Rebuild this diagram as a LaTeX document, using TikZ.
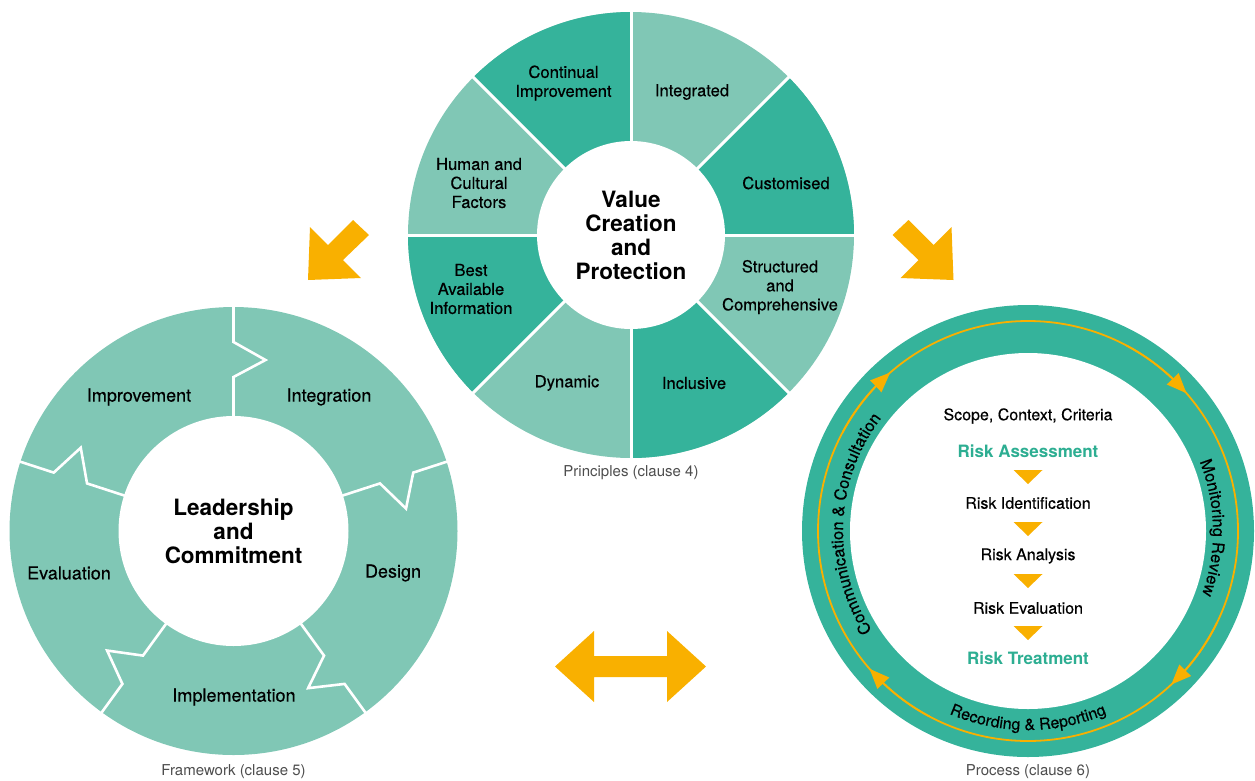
\documentclass[tikz,border=0pt]{standalone}
\usepackage{fontspec}
\setmainfont{TeX Gyre Heros}
\newfontfamily\medfont{TeX Gyre Heros}[FakeBold=0.35]
\usetikzlibrary{arrows.meta,bending,decorations.text}
\definecolor{darkteal}{HTML}{35B39B}
\definecolor{lightteal}{HTML}{80C7B5}
\definecolor{amber}{HTML}{F9B000}
\definecolor{greentext}{HTML}{2DAE92}
\definecolor{captiongray}{HTML}{4D4D4D}
\begin{document}
\begin{tikzpicture}[x=1pt,y=1pt,
  lbl/.style={align=center, font=\medfont\fontsize{16.6}{19}\selectfont, text=black, inner sep=0pt},
  fwlbl/.style={align=center, font=\medfont\fontsize{18}{20}\selectfont, text=black, inner sep=0pt},
  hub/.style={align=center, font=\fontsize{22.5}{24}\selectfont\bfseries, text=black, inner sep=0pt},
  caption/.style={font=\fontsize{15}{17}\selectfont, text=captiongray, inner sep=0pt},
  steplbl/.style={font=\medfont\fontsize{16}{19}\selectfont, text=black, inner sep=0pt},
  phase/.style={font=\fontsize{17}{19}\selectfont\bfseries, text=greentext, inner sep=0pt},
  sepline/.style={white, line width=3pt},
  zig/.style={white, line width=2.6pt, line join=miter},
  bigarrow/.style={fill=amber, draw=none},
  ring/.style={amber, line width=1.8pt},
  ringtip/.style={amber, line width=1.8pt, -{Triangle[length=20pt,width=16pt,flex]}},
  curvetext/.style={decorate, decoration={text along path, text align=center, text color=black}}
]
\path[use as bounding box] (0,0) rectangle (1255,-780);

% ---------- Principles ----------
\begin{scope}[shift={(631,-235)}]
  \fill[lightteal] (0,0) circle (223);
  \foreach \a in {0,90,180,270}{
    \fill[darkteal] (0,0) -- (\a:223) arc[start angle=\a, delta angle=45, radius=223] -- cycle;
  }
  \foreach \a in {0,45,...,315}{
    \draw[sepline] (\a:80) -- (\a:226);
  }
  \fill[white] (0,0) circle (94);
  \node[hub] (vcp) at (0,0) {Value\\Creation\\and\\Protection};
\end{scope}
\node[lbl] (ci)  at (563.5,-83) {Continual\\Improvement};
\node[lbl] (int) at (692,-92) {Integrated};
\node[lbl] (cus) at (786,-183) {Customised};
\node[lbl] (str) at (780,-287) {Structured\\and\\Comprehensive};
\node[lbl] (inc) at (694,-383) {Inclusive};
\node[lbl] (dyn) at (567,-383) {Dynamic};
\node[lbl] (bai) at (471,-289) {Best\\Available\\Information};
\node[lbl] (hcf) at (479,-183) {Human and\\Cultural\\Factors};
\node[caption] (cap4) at (631,-473) {Principles (clause 4)};

% ---------- Framework ----------
\begin{scope}[shift={(233.5,-531)}]
  \fill[lightteal] (0,0) circle (224);
  \foreach \a in {90,18,-54,-126,-198}{
    \draw[zig, rotate=\a-90] (0,228) -- (0,189) -- (32,171) -- (0,154) -- (0,110);
  }
  \fill[white] (0,0) circle (115);
  \node[hub] (lac) at (0,0) {Leadership\\and\\Commitment};
\end{scope}
\node[fwlbl] (imp)  at (139,-397) {Improvement};
\node[fwlbl] (ign)  at (329,-397) {Integration};
\node[fwlbl] (des)  at (393,-573) {Design};
\node[fwlbl] (evl)  at (69,-573) {Evaluation};
\node[fwlbl] (impl) at (234,-697) {Implementation};
\node[caption] (cap5) at (233.5,-772) {Framework (clause 5)};

% ---------- Process ----------
\begin{scope}[shift={(1028,-531)}]
  \fill[darkteal] (0,0) circle (226);
  \fill[white] (0,0) circle (178);
  \draw[ring] (0,0) circle (210);
  \draw[ringtip] (152:210) arc[start angle=152, end angle=131, radius=210];
  \draw[ringtip] (62:210) arc[start angle=62, end angle=41, radius=210];
  \draw[ringtip] (-26:210) arc[start angle=-26, end angle=-47, radius=210];
  \draw[ringtip] (-118:210) arc[start angle=-118, end angle=-139, radius=210];
  \path[curvetext, decoration={text={|\medfont\fontsize{16.5}{18}\selectfont|Communication {\&} Consultation}}]
    (217.5:185) arc[start angle=217.5, end angle=137.5, radius=185];
  \path[curvetext, decoration={text={|\medfont\fontsize{16.5}{18}\selectfont|Monitoring Review}}]
    (41:185) arc[start angle=41, end angle=-39, radius=185];
  \path[curvetext, decoration={text={|\medfont\fontsize{16}{18}\selectfont|Recording {\&} Reporting}}]
    (225:199) arc[start angle=225, end angle=315, radius=199];
\end{scope}
\node[steplbl] (scc) at (1028,-416) {Scope, Context, Criteria};
\node[phase]   (ra)  at (1028,-451) {Risk Assessment};
\node[steplbl] (rid) at (1028,-503) {Risk Identification};
\node[steplbl] (ran) at (1028,-556) {Risk Analysis};
\node[steplbl] (rev) at (1028,-608) {Risk Evaluation};
\node[phase]   (rt)  at (1028,-658) {Risk Treatment};
\foreach \y in {470,522,574,626}{
  \fill[amber] (1013.5,-\y) -- (1042.5,-\y) -- (1028,-\y-14) -- cycle;
}
\node[caption] (cap6) at (1028,-772) {Process (clause 6)};

% ---------- Big arrows ----------
\fill[bigarrow] (308,-280) -- (310,-227) -- (328,-245) -- (353,-220) -- (369,-235) -- (343,-260) -- (361,-278) -- cycle;
\fill[bigarrow] (953.5,-280) -- (951.5,-227) -- (933.5,-245) -- (908.5,-220) -- (892.5,-235) -- (918.5,-260) -- (900.5,-278) -- cycle;
\fill[bigarrow] (555,-666.5) -- (594,-631) -- (594,-656) -- (667,-656) -- (667,-631) -- (706,-666.5) -- (667,-702) -- (667,-677) -- (594,-677) -- (594,-702) -- cycle;
\end{tikzpicture}
\end{document}
